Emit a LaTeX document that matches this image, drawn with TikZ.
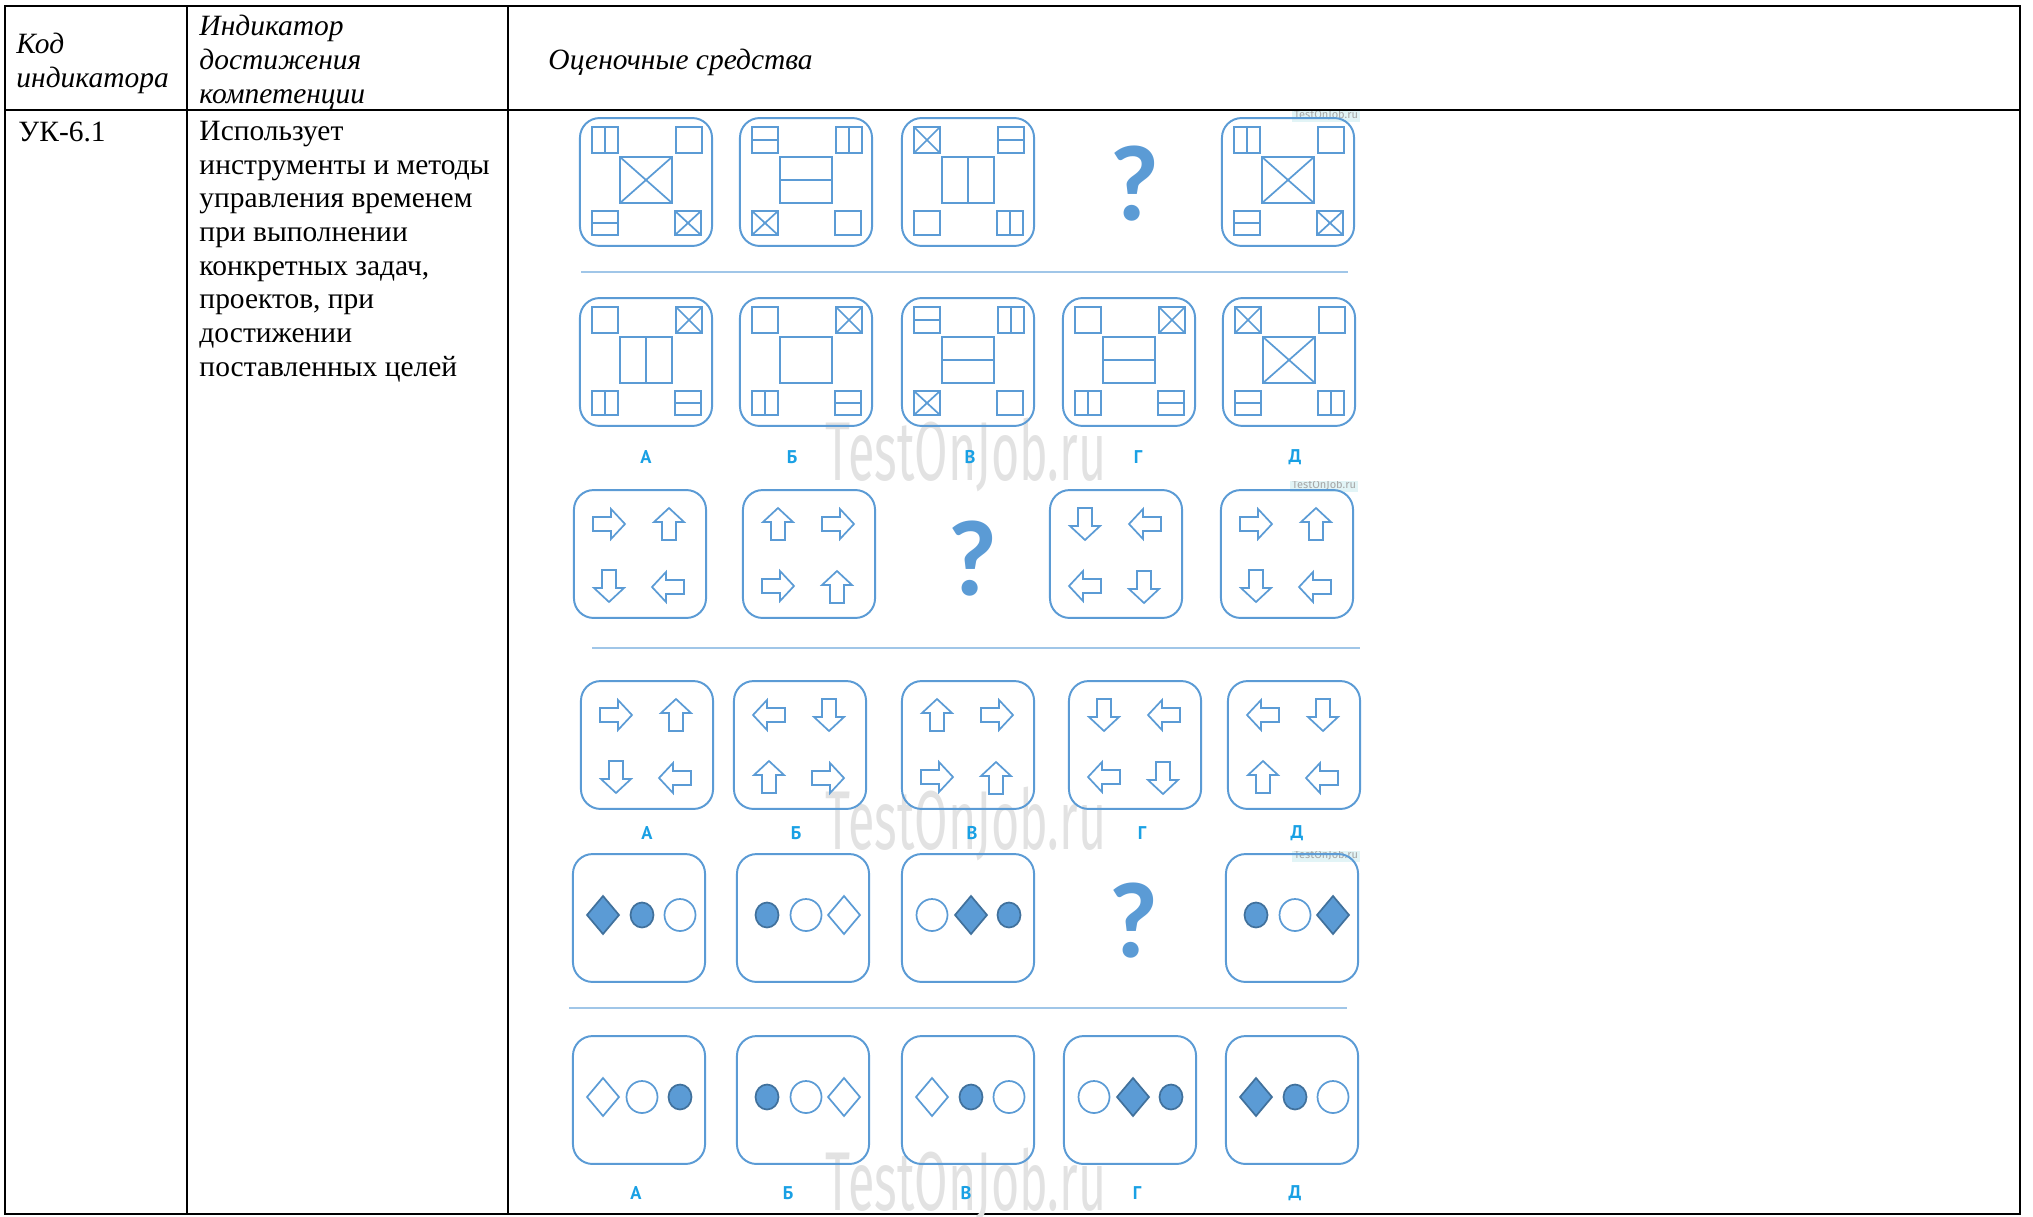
\documentclass[tikz,border=0pt]{standalone}
\usepackage{fontspec}
\setmainfont{Liberation Serif}
\newfontfamily\qmfont{Carlito}
\newfontfamily\labfont{PT Sans}
\newfontfamily\wmfont{Fira Sans}

\definecolor{cardblue}{RGB}{91,155,213}
\definecolor{darkblue}{RGB}{65,113,156}
\definecolor{labblue}{RGB}{25,160,228}
\definecolor{seplight}{RGB}{160,198,232}
\definecolor{wmgray}{RGB}{226,226,226}
\definecolor{wmcyan}{RGB}{226,244,246}

% small box of a square card: #1 kind (0 empty, 1 split |, 2 split -, 3 cross), #2 #3 centre, #4 #5 half size
\newcommand{\sqbox}[5]{%
  \draw[fig] ({#2-#4},{#3-#5}) rectangle ({#2+#4},{#3+#5});
  \ifcase#1\relax
  \or \draw[fig] (#2,{#3-#5}) -- (#2,{#3+#5});
  \or \draw[fig] ({#2-#4},#3) -- ({#2+#4},#3);
  \or \draw[fig] ({#2-#4},{#3-#5}) -- ({#2+#4},{#3+#5}) ({#2-#4},{#3+#5}) -- ({#2+#4},{#3-#5});
  \fi}
% card with four corner boxes and a centre box
\newcommand{\sqcard}[8]{%
  \node[card] (#1) at (#2,#3) {};
  \begin{scope}[shift={(#2,#3)}]
    \sqbox{#4}{-41}{-42}{13}{13}
    \sqbox{#5}{43}{-42}{13}{13}
    \sqbox{#6}{0}{-2}{26}{23}
    \sqbox{#7}{-41}{41}{13}{12}
    \sqbox{#8}{42}{41}{13}{12}
  \end{scope}}
% hollow block arrow, #3 = direction in degrees
\newcommand{\blockarrow}[3]{%
  \draw[fig, shift={(#1,#2)}, rotate=#3] (-16,-7) -- (2,-7) -- (2,-15) -- (16,0) -- (2,15) -- (2,7) -- (-16,7) -- cycle;}
\newcommand{\arcard}[7]{%
  \node[card] (#1) at (#2,#3) {};
  \begin{scope}[shift={(#2,#3)}]
    \blockarrow{-31}{-30}{#4}
    \blockarrow{29}{-30}{#5}
    \blockarrow{-31}{32}{#6}
    \blockarrow{28}{33}{#7}
  \end{scope}}
% shape: 1 filled diamond, 2 open diamond, 3 filled dot, 4 ring
\newcommand{\figshape}[3]{%
  \ifcase#1\relax
  \or \draw[figfill] (#2,{#3-19}) -- ({#2+16},#3) -- (#2,{#3+19}) -- ({#2-16},#3) -- cycle;
  \or \draw[fig, fill=white] (#2,{#3-19}) -- ({#2+16},#3) -- (#2,{#3+19}) -- ({#2-16},#3) -- cycle;
  \or \draw[figfill] (#2,#3) ellipse [x radius=11.5, y radius=12.5];
  \or \draw[fig, fill=white] (#2,#3) ellipse [x radius=15.5, y radius=16];
  \fi}
\newcommand{\shcard}[6]{%
  \node[card] (#1) at (#2,#3) {};
  \begin{scope}[shift={(#2,#3)}]
    \figshape{#4}{-36}{-3}
    \figshape{#5}{3}{-3}
    \figshape{#6}{41}{-3}
  \end{scope}}

\begin{document}
\begin{tikzpicture}[
  x=0.4073pt, y=-0.4073pt,
  grid/.style={line width=0.75pt, black},
  hd/.style={font=\fontsize{12}{13.7}\selectfont\itshape, align=left, inner sep=0pt},
  txt/.style={font=\fontsize{12}{13.7}\selectfont, align=left, inner sep=0pt},
  card/.style={draw=cardblue, line width=0.8pt, rounded corners=8pt, minimum width=53.8pt, minimum height=52.1pt, inner sep=0pt},
  fig/.style={draw=cardblue, line width=0.7pt},
  figfill/.style={draw=darkblue, fill=cardblue, line width=0.7pt},
  sep/.style={draw=seplight, line width=0.9pt},
  lab/.style={font=\labfont\bfseries\fontsize{7.5}{9}\selectfont, text=labblue, inner sep=0pt},
  qmark/.style={font=\qmfont\bfseries\fontsize{44}{44}\selectfont, text=cardblue, inner sep=0pt},
  wm/.style={font=\wmfont\fontsize{34}{34}\selectfont, text=wmgray, inner sep=0pt, anchor=base},
  wmsmall/.style={font=\wmfont\fontsize{4.5}{5}\selectfont, text=gray!70, fill=wmcyan, inner sep=1pt},
]
\useasboundingbox (0,0) rectangle (2033,1216);
% ================= table =================
\draw[grid] (5,6) rectangle (2020,1214);
\draw[grid] (187,6) -- (187,1214) (508,6) -- (508,1214) (5,110) -- (2020,110);
% multi-line nodes sit on the baseline of their last line
\node[hd, anchor=base west] (hcode) at (16,87) {Код\\индикатора};
\node[hd, anchor=base west] (hind) at (199,103) {Индикатор\\достижения\\компетенции};
\node[hd, anchor=base west] (htools) at (548,69) {Оценочные средства};
\node[txt, anchor=base west] (code) at (18,141) {УК-6.1};
\node[txt, anchor=base west] (desc) at (199,376) {Использует\\инструменты и методы\\управления временем\\при выполнении\\конкретных задач,\\проектов, при\\достижении\\поставленных целей};
% ================= watermarks =================
\node[wm] (wm1) at (966,480) {\scalebox{0.58}[1]{TestOnJob.ru}};
\node[wm] (wm2) at (966,849) {\scalebox{0.58}[1]{TestOnJob.ru}};
\node[wm] (wm3) at (966,1210) {\scalebox{0.58}[1]{TestOnJob.ru}};
\begin{scope}
  \clip (1288,111) rectangle (1366,126);
  \node[wmsmall] (ws1) at (1326,115) {TestOnJob.ru};
\end{scope}
\begin{scope}
  \clip (1285,481) rectangle (1364,494);
  \node[wmsmall] (ws2) at (1324,485) {TestOnJob.ru};
\end{scope}
\begin{scope}
  \clip (1290,851) rectangle (1362,864);
  \node[wmsmall] (ws3) at (1326,855) {TestOnJob.ru};
\end{scope}
% ================= task 1: squares =================
\sqcard{sqp1}{646}{182}{1}{0}{3}{2}{3}
\sqcard{sqp2}{806}{182}{2}{1}{2}{3}{0}
\sqcard{sqp3}{968}{182}{3}{2}{1}{0}{1}
\node[qmark] (q1) at (1135,184) {?};
\sqcard{sqp4}{1288}{182}{1}{0}{3}{2}{3}
\draw[sep] (581,272) -- (1348,272);
\sqcard{sqo1}{646}{362}{0}{3}{1}{1}{2}
\sqcard{sqo2}{806}{362}{0}{3}{0}{1}{2}
\sqcard{sqo3}{968}{362}{2}{1}{2}{3}{0}
\sqcard{sqo4}{1129}{362}{0}{3}{2}{1}{2}
\sqcard{sqo5}{1289}{362}{3}{0}{3}{2}{1}
\node[lab] at (646,457) {А};
\node[lab] at (792,457) {Б};
\node[lab] at (970,457) {В};
\node[lab] at (1138,457) {Г};
\node[lab] at (1295,457) {Д};
% ================= task 2: arrows =================
\arcard{arp1}{640}{554}{0}{90}{270}{180}
\arcard{arp2}{809}{554}{90}{0}{0}{90}
\node[qmark] (q2) at (973,559) {?};
\arcard{arp3}{1116}{554}{270}{180}{180}{270}
\arcard{arp4}{1287}{554}{0}{90}{270}{180}
\draw[sep] (592,648) -- (1360,648);
\arcard{aro1}{647}{745}{0}{90}{270}{180}
\arcard{aro2}{800}{745}{180}{270}{90}{0}
\arcard{aro3}{968}{745}{90}{0}{0}{90}
\arcard{aro4}{1135}{745}{270}{180}{180}{270}
\arcard{aro5}{1294}{745}{180}{270}{90}{180}
\node[lab] at (647,833) {А};
\node[lab] at (796,833) {Б};
\node[lab] at (972,833) {В};
\node[lab] at (1142,833) {Г};
\node[lab] at (1297,833) {Д};
% ================= task 3: shapes =================
\shcard{shp1}{639}{918}{1}{3}{4}
\shcard{shp2}{803}{918}{3}{4}{2}
\shcard{shp3}{968}{918}{4}{1}{3}
\node[qmark] (q3) at (1134,921) {?};
\shcard{shp4}{1292}{918}{3}{4}{1}
\draw[sep] (569,1008) -- (1347,1008);
\shcard{sho1}{639}{1100}{2}{4}{3}
\shcard{sho2}{803}{1100}{3}{4}{2}
\shcard{sho3}{968}{1100}{2}{3}{4}
\shcard{sho4}{1130}{1100}{4}{1}{3}
\shcard{sho5}{1292}{1100}{1}{3}{4}
\node[lab] at (636,1193) {А};
\node[lab] at (788,1193) {Б};
\node[lab] at (966,1193) {В};
\node[lab] at (1137,1193) {Г};
\node[lab] at (1295,1193) {Д};
\end{tikzpicture}
\end{document}
